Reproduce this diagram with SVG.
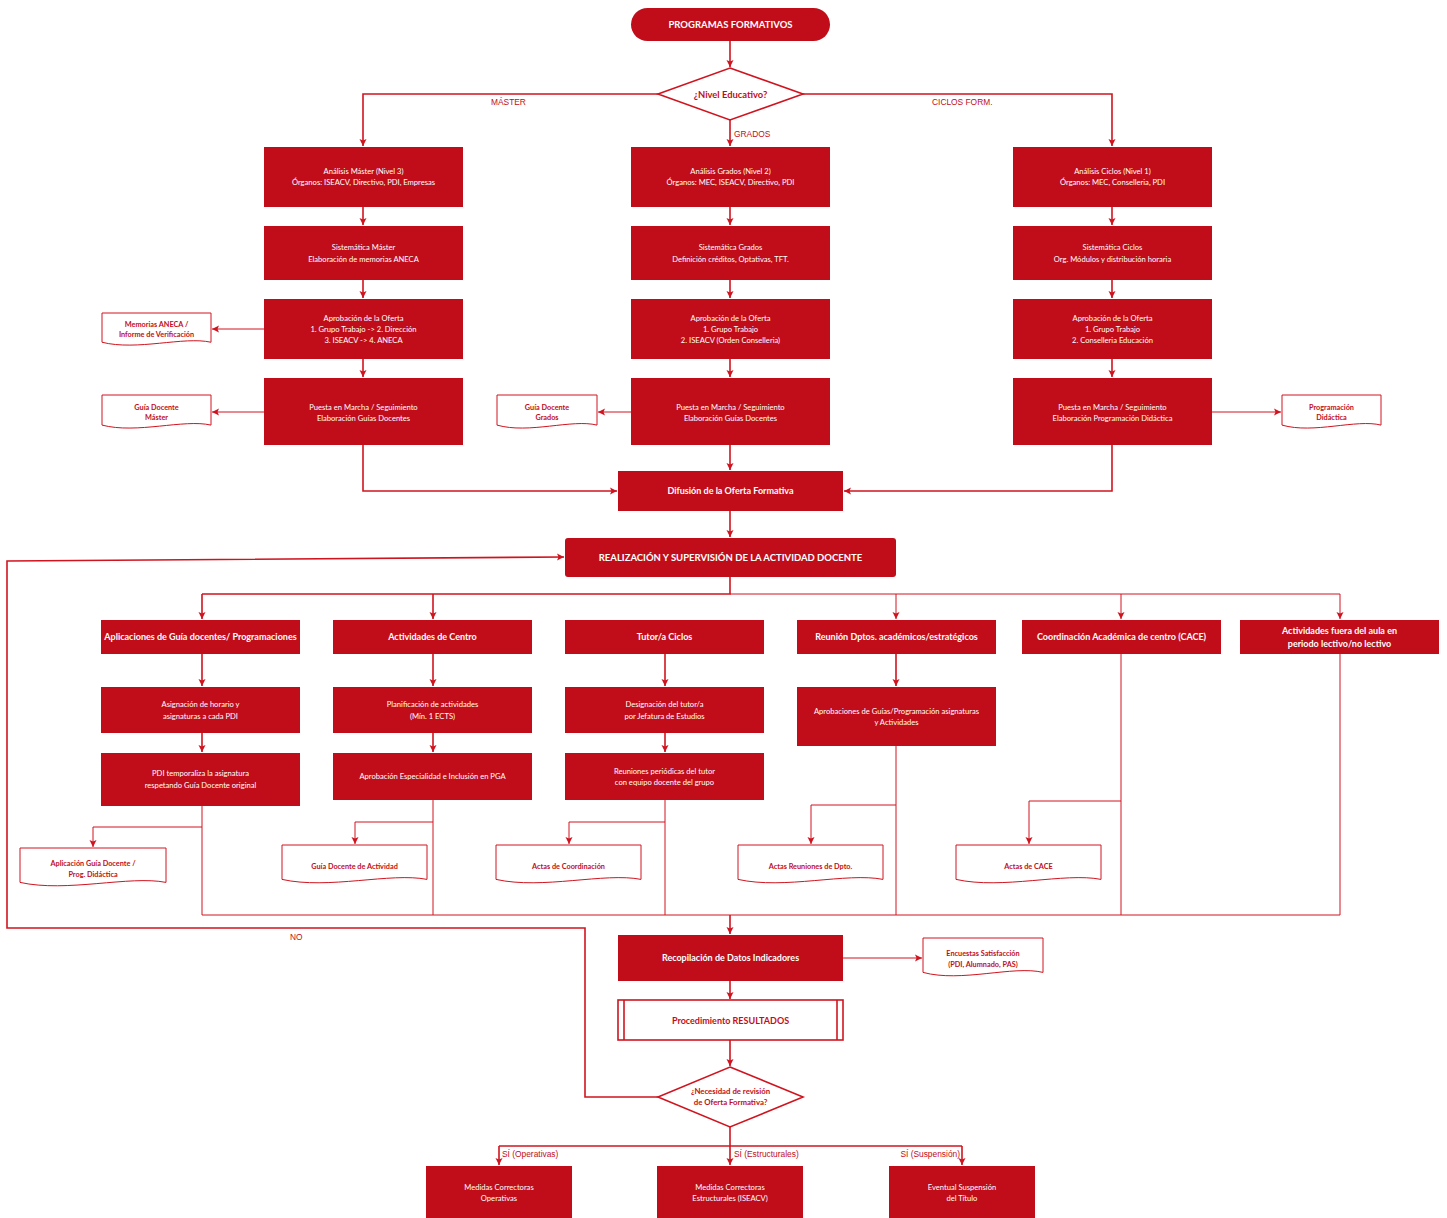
<svg xmlns="http://www.w3.org/2000/svg" width="1447" height="1218" viewBox="0 0 1447 1218">
<style>
.bx{fill:#C10D19;}
.doc{fill:#fff;stroke:#D0141F;stroke-width:1;vector-effect:non-scaling-stroke;}
.t{font-family:Lato,"Open Sans",sans-serif;font-size:7.6px;fill:#fff;text-anchor:middle;}
.tb{font-family:Lato,"Open Sans",sans-serif;font-size:9px;font-weight:bold;fill:#fff;text-anchor:middle;}
.td{font-family:Lato,"Open Sans",sans-serif;font-size:7.3px;font-weight:bold;fill:#C10D19;text-anchor:middle;}
.lb{font-family:"Liberation Sans",Arial,sans-serif;font-size:8.4px;fill:#C10D19;}
.m{fill:none;stroke:#D0141F;stroke-width:1.6;marker-end:url(#ah);}
.m0{fill:none;stroke:#D0141F;stroke-width:1.6;}
.s{fill:none;stroke:#D0141F;stroke-width:1;marker-end:url(#ah);}
.s0{fill:none;stroke:#D0141F;stroke-width:1;}
</style>
<defs>
<marker id="ah" markerUnits="userSpaceOnUse" markerWidth="8" markerHeight="8" refX="7" refY="4" orient="auto">
<path d="M0,0.5 L7,4 L0,7.5 L1.5,4 Z" fill="#D0141F"/>
</marker>
<path id="dshape" class="doc" d="M0,0 H1 V0.86 C0.75,0.68 0.32,1.12 0,0.86 Z"/>
</defs>
<rect width="1447" height="1218" fill="#fff"/>

<g id="connectors">
<path class="m" d="M730,41 V67"/>
<path class="m" d="M658,94 H363 V146"/>
<path class="m" d="M803,94 H1112 V146"/>
<path class="m" d="M730,120 V146"/>
<path class="m" d="M363,207 V225"/><path class="m" d="M363,280 V298"/><path class="m" d="M363,359 V377"/>
<path class="m" d="M730,207 V225"/><path class="m" d="M730,280 V298"/><path class="m" d="M730,359 V377"/>
<path class="m" d="M1112,207 V225"/><path class="m" d="M1112,280 V298"/><path class="m" d="M1112,359 V377"/>
<path class="s" d="M264,329 H212"/>
<path class="s" d="M264,412 H212"/>
<path class="s" d="M631,412 H598"/>
<path class="s" d="M1212,412 H1281"/>
<path class="m" d="M363,445 V491 H617"/>
<path class="m" d="M1112,445 V491 H844"/>
<path class="m" d="M730,445 V470"/>
<path class="m" d="M730,511 V537"/>
<path class="m0" d="M730,577 V594 H202"/>
<path class="s0" d="M730,594 H1340"/>
<path class="m" d="M202,594 V619"/>
<path class="m" d="M433,594 V619"/>
<path class="s" d="M896,594 V619"/>
<path class="s" d="M1121,594 V619"/>
<path class="s" d="M1340,594 V619"/>
<path class="m" d="M202,654 V686"/><path class="m" d="M202,733 V752"/>
<path class="m" d="M433,654 V686"/><path class="m" d="M433,733 V752"/>
<path class="m" d="M665,654 V686"/><path class="m" d="M665,733 V752"/>
<path class="m" d="M896,654 V686"/>
<path class="s0" d="M202,806 V915"/>
<path class="s" d="M202,827 H93 V847"/>
<path class="s0" d="M433,800 V915"/>
<path class="s" d="M433,822 H355 V844"/>
<path class="s0" d="M665,800 V915"/>
<path class="s" d="M665,822 H569 V844"/>
<path class="s0" d="M896,746 V915"/>
<path class="s" d="M896,805 H811 V844"/>
<path class="s0" d="M1121,654 V915"/>
<path class="s" d="M1121,801 H1029 V844"/>
<path class="s0" d="M1340,654 V915"/>
<path class="s0" d="M202,915 H1340"/>
<path class="m" d="M730,915 V934"/>
<path class="s" d="M843,958 H922"/>
<path class="m" d="M730,981 V999"/>
<path class="m" d="M730,1040 V1066"/>
<path class="m" d="M658,1097 H585 V928 H7 V561 L564,557"/>
<path class="m0" d="M730,1127 V1146"/>
<path class="m0" d="M499,1146 H962"/>
<path class="m" d="M499,1146 V1165"/>
<path class="m" d="M730,1146 V1165"/>
<path class="m" d="M962,1146 V1165"/>
<text class="lb" x="491" y="105">MÁSTER</text>
<text class="lb" x="932" y="105">CICLOS FORM.</text>
<text class="lb" x="734" y="137">GRADOS</text>
<text class="lb" x="290" y="940">NO</text>
<text class="lb" x="502" y="1157">SÍ (Operativas)</text>
<text class="lb" x="734" y="1157">SÍ (Estructurales)</text>
<text class="lb" x="960" y="1157" text-anchor="end">SÍ (Suspensión)</text>
</g>

<g id="n-start"><rect class="bx" x="631" y="8" width="199" height="33" rx="16.5"/><text class="tb" x="730.5" y="28" style="font-size:9.5px">PROGRAMAS FORMATIVOS</text></g>
<g id="n-nivel"><polygon points="730,68 803,94 730,120 658,94" fill="#fff" stroke="#D0141F" stroke-width="1.6"/><text class="td" x="730.5" y="97.5" style="font-size:9.4px">¿Nivel Educativo?</text></g>

<g id="n-am"><rect class="bx" x="264" y="147" width="199" height="60"/><text class="t" x="363.5" y="174">Análisis Máster (Nivel 3)</text><text class="t" x="363.5" y="185">Órganos: ISEACV, Directivo, PDI, Empresas</text></g>
<g id="n-sm"><rect class="bx" x="264" y="226" width="199" height="54"/><text class="t" x="363.5" y="250">Sistemática Máster</text><text class="t" x="363.5" y="262">Elaboración de memorias ANECA</text></g>
<g id="n-apm"><rect class="bx" x="264" y="299" width="199" height="60"/><text class="t" x="363.5" y="321">Aprobación de la Oferta</text><text class="t" x="363.5" y="332">1. Grupo Trabajo -&gt; 2. Dirección</text><text class="t" x="363.5" y="343">3. ISEACV -&gt; 4. ANECA</text></g>
<g id="n-pm"><rect class="bx" x="264" y="378" width="199" height="67"/><text class="t" x="363.5" y="410">Puesta en Marcha / Seguimiento</text><text class="t" x="363.5" y="421">Elaboración Guías Docentes</text></g>

<g id="n-ag"><rect class="bx" x="631" y="147" width="199" height="60"/><text class="t" x="730.5" y="174">Análisis Grados (Nivel 2)</text><text class="t" x="730.5" y="185">Órganos: MEC, ISEACV, Directivo, PDI</text></g>
<g id="n-sg"><rect class="bx" x="631" y="226" width="199" height="54"/><text class="t" x="730.5" y="250">Sistemática Grados</text><text class="t" x="730.5" y="262">Definición créditos, Optativas, TFT.</text></g>
<g id="n-apg"><rect class="bx" x="631" y="299" width="199" height="60"/><text class="t" x="730.5" y="321">Aprobación de la Oferta</text><text class="t" x="730.5" y="332">1. Grupo Trabajo</text><text class="t" x="730.5" y="343">2. ISEACV (Orden Conselleria)</text></g>
<g id="n-pg"><rect class="bx" x="631" y="378" width="199" height="67"/><text class="t" x="730.5" y="410">Puesta en Marcha / Seguimiento</text><text class="t" x="730.5" y="421">Elaboración Guías Docentes</text></g>

<g id="n-ac"><rect class="bx" x="1013" y="147" width="199" height="60"/><text class="t" x="1112.5" y="174">Análisis Ciclos (Nivel 1)</text><text class="t" x="1112.5" y="185">Órganos: MEC, Conselleria, PDI</text></g>
<g id="n-sc"><rect class="bx" x="1013" y="226" width="199" height="54"/><text class="t" x="1112.5" y="250">Sistemática Ciclos</text><text class="t" x="1112.5" y="262">Org. Módulos y distribución horaria</text></g>
<g id="n-apc"><rect class="bx" x="1013" y="299" width="199" height="60"/><text class="t" x="1112.5" y="321">Aprobación de la Oferta</text><text class="t" x="1112.5" y="332">1. Grupo Trabajo</text><text class="t" x="1112.5" y="343">2. Conselleria Educación</text></g>
<g id="n-pc"><rect class="bx" x="1013" y="378" width="199" height="67"/><text class="t" x="1112.5" y="410">Puesta en Marcha / Seguimiento</text><text class="t" x="1112.5" y="421">Elaboración Programación Didáctica</text></g>

<g id="d-mem"><use href="#dshape" transform="translate(102,313) scale(109,34)"/><text class="td" x="156.5" y="326.5">Memorias ANECA /</text><text class="td" x="156.5" y="337">Informe de Verificación</text></g>
<g id="d-gdm"><use href="#dshape" transform="translate(102,395) scale(109,35)"/><text class="td" x="156.5" y="409.5">Guía Docente</text><text class="td" x="156.5" y="420">Máster</text></g>
<g id="d-gdg"><use href="#dshape" transform="translate(497,395) scale(100,35)"/><text class="td" x="547" y="409.5">Guía Docente</text><text class="td" x="547" y="420">Grados</text></g>
<g id="d-pd"><use href="#dshape" transform="translate(1282,395) scale(99,35)"/><text class="td" x="1331.5" y="409.5">Programación</text><text class="td" x="1331.5" y="420">Didáctica</text></g>

<g id="n-dif"><rect class="bx" x="618" y="471" width="225" height="40"/><text class="tb" x="730.5" y="494">Difusión de la Oferta Formativa</text></g>
<g id="n-real"><rect class="bx" x="565" y="538" width="331" height="39" rx="3"/><text class="tb" x="730.5" y="561" style="font-size:9.5px">REALIZACIÓN Y SUPERVISIÓN DE LA ACTIVIDAD DOCENTE</text></g>

<g id="n-h1"><rect class="bx" x="101" y="620" width="199" height="34"/><text class="tb" x="200.5" y="640">Aplicaciones de Guía docentes/ Programaciones</text></g>
<g id="n-h2"><rect class="bx" x="333" y="620" width="199" height="34"/><text class="tb" x="432.5" y="640">Actividades de Centro</text></g>
<g id="n-h3"><rect class="bx" x="565" y="620" width="199" height="34"/><text class="tb" x="664.5" y="640">Tutor/a Ciclos</text></g>
<g id="n-h4"><rect class="bx" x="797" y="620" width="199" height="34"/><text class="tb" x="896.5" y="640">Reunión Dptos. académicos/estratégicos</text></g>
<g id="n-h5"><rect class="bx" x="1022" y="620" width="199" height="34"/><text class="tb" x="1121.5" y="640">Coordinación Académica de centro (CACE)</text></g>
<g id="n-h6"><rect class="bx" x="1240" y="620" width="199" height="34"/><text class="tb" x="1339.5" y="634">Actividades fuera del aula en</text><text class="tb" x="1339.5" y="647">periodo lectivo/no lectivo</text></g>

<g id="n-b1"><rect class="bx" x="101" y="687" width="199" height="46"/><text class="t" x="200.5" y="707">Asignación de horario y</text><text class="t" x="200.5" y="719">asignaturas a cada PDI</text></g>
<g id="n-b2"><rect class="bx" x="333" y="687" width="199" height="46"/><text class="t" x="432.5" y="707">Planificación de actividades</text><text class="t" x="432.5" y="719">(Mín. 1 ECTS)</text></g>
<g id="n-b3"><rect class="bx" x="565" y="687" width="199" height="46"/><text class="t" x="664.5" y="707">Designación del tutor/a</text><text class="t" x="664.5" y="719">por Jefatura de Estudios</text></g>
<g id="n-b4"><rect class="bx" x="797" y="687" width="199" height="59"/><text class="t" x="896.5" y="714">Aprobaciones de Guías/Programación asignaturas</text><text class="t" x="896.5" y="725">y Actividades</text></g>

<g id="n-c1"><rect class="bx" x="101" y="753" width="199" height="53"/><text class="t" x="200.5" y="776">PDI temporaliza la asignatura</text><text class="t" x="200.5" y="788">respetando Guía Docente original</text></g>
<g id="n-c2"><rect class="bx" x="333" y="753" width="199" height="47"/><text class="t" x="432.5" y="779">Aprobación Especialidad e Inclusión en PGA</text></g>
<g id="n-c3"><rect class="bx" x="565" y="753" width="199" height="47"/><text class="t" x="664.5" y="774">Reuniones periódicas del tutor</text><text class="t" x="664.5" y="785">con equipo docente del grupo</text></g>

<g id="d-apl"><use href="#dshape" transform="translate(20,848) scale(146,40)"/><text class="td" x="93" y="866">Aplicación Guía Docente /</text><text class="td" x="93" y="877">Prog. Didáctica</text></g>
<g id="d-gda"><use href="#dshape" transform="translate(282,845) scale(145,40)"/><text class="td" x="354.5" y="869">Guía Docente de Actividad</text></g>
<g id="d-acoord"><use href="#dshape" transform="translate(496,845) scale(145,40)"/><text class="td" x="568.5" y="869">Actas de Coordinación</text></g>
<g id="d-adpto"><use href="#dshape" transform="translate(738,845) scale(145,40)"/><text class="td" x="810.5" y="869">Actas Reuniones de Dpto.</text></g>
<g id="d-acace"><use href="#dshape" transform="translate(956,845) scale(145,40)"/><text class="td" x="1028.5" y="869">Actas de CACE</text></g>

<g id="n-rec"><rect class="bx" x="618" y="935" width="225" height="46"/><text class="tb" x="730.5" y="961">Recopilación de Datos Indicadores</text></g>
<g id="d-enc"><use href="#dshape" transform="translate(923,938) scale(120,40)"/><text class="td" x="983" y="956">Encuestas Satisfacción</text><text class="td" x="983" y="967">(PDI, Alumnado, PAS)</text></g>
<g id="n-proc"><rect x="618" y="1000" width="225" height="40" fill="#fff" stroke="#D0141F" stroke-width="1.6"/><line x1="624" y1="1000" x2="624" y2="1040" stroke="#D0141F" stroke-width="1.6"/><line x1="837" y1="1000" x2="837" y2="1040" stroke="#D0141F" stroke-width="1.6"/><text class="tb" x="730.5" y="1024" style="fill:#C10D19">Procedimiento RESULTADOS</text></g>
<g id="n-nec"><polygon points="730,1067 803,1097 730,1127 658,1097" fill="#fff" stroke="#D0141F" stroke-width="1.6"/><text class="td" x="730.5" y="1094" style="font-size:7.8px">¿Necesidad de revisión</text><text class="td" x="730.5" y="1105" style="font-size:7.8px">de Oferta Formativa?</text></g>

<g id="n-mo"><rect class="bx" x="426" y="1166" width="146" height="55"/><text class="t" x="499" y="1190">Medidas Correctoras</text><text class="t" x="499" y="1201">Operativas</text></g>
<g id="n-me"><rect class="bx" x="657" y="1166" width="146" height="55"/><text class="t" x="730" y="1190">Medidas Correctoras</text><text class="t" x="730" y="1201">Estructurales (ISEACV)</text></g>
<g id="n-es"><rect class="bx" x="889" y="1166" width="146" height="55"/><text class="t" x="962" y="1190">Eventual Suspensión</text><text class="t" x="962" y="1201">del Título</text></g>
</svg>
